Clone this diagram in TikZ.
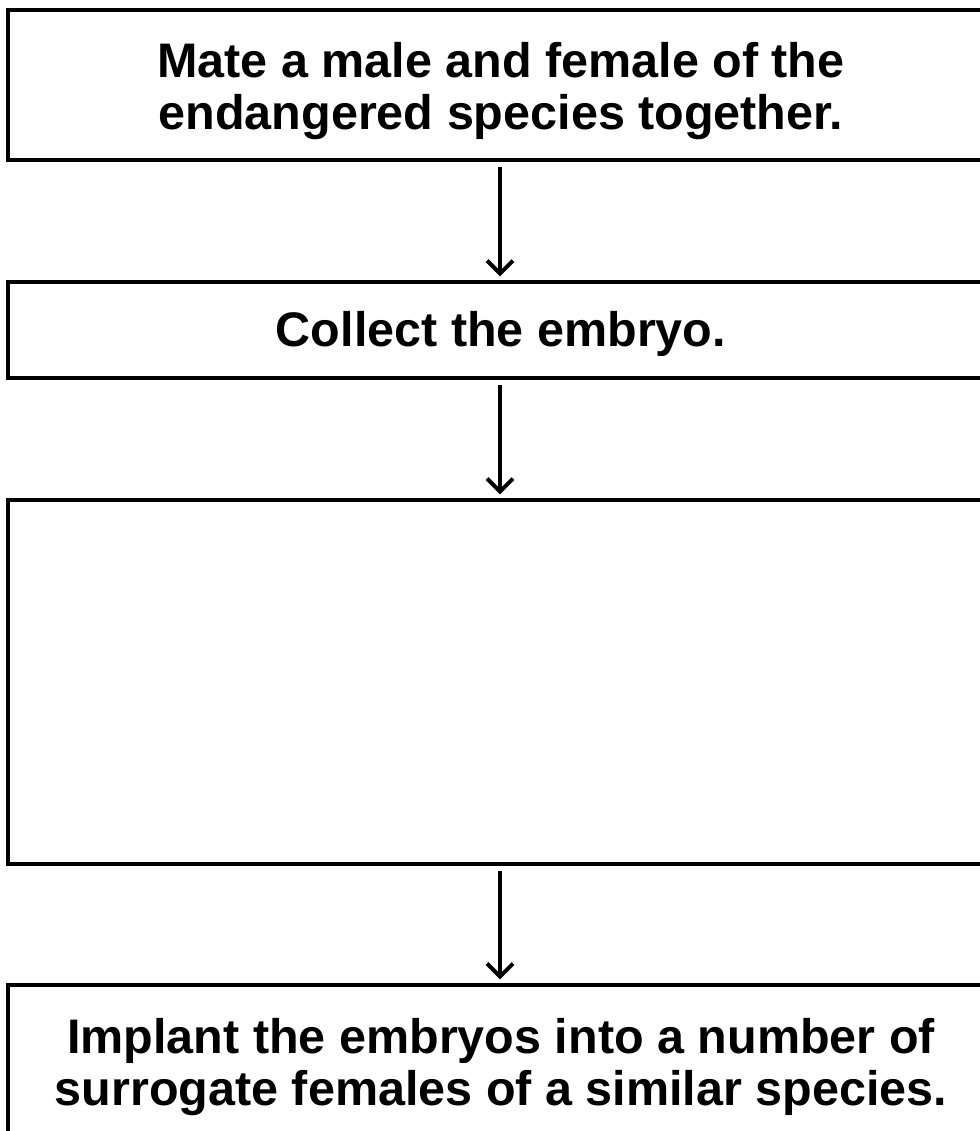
\documentclass[tikz,border=0pt]{standalone}
\usepackage{fontspec}
\setmainfont{Liberation Sans}
\usetikzlibrary{arrows.meta}
\begin{document}
\begin{tikzpicture}[x=1pt,y=-1pt,
  stepbox/.style={draw=black, line width=3.2pt, rectangle, minimum width=984pt, inner sep=0pt},
  txt/.style={align=center, inner sep=0pt, font=\fontsize{48.5}{52.5}\selectfont\bfseries},
  arr/.style={line width=4pt, -{Straight Barb[length=13pt,width=26pt,line width=4pt]}}]
\useasboundingbox (0,0) rectangle (979,1131);
\node[stepbox, minimum height=150pt] (b1) at (500,85) {};
\node[stepbox, minimum height=96pt] (b2) at (500,330) {};
\node[stepbox, minimum height=364pt] (b3) at (500,682) {};
\node[stepbox, minimum height=152pt] (b4) at (500,1061) {};
\node[txt] (t1) at (501,91) {Mate a male and female of the\\endangered species together.};
\node[txt] (t2) at (501,334) {Collect the embryo.};
\node[txt] (t4) at (501,1067) {Implant the embryos into a number of\\surrogate females of a similar species.};
\draw[arr] ([yshift=-5pt]b1.south) -- ([yshift=4pt]b2.north);
\draw[arr] ([yshift=-5pt]b2.south) -- ([yshift=4pt]b3.north);
\draw[arr] ([yshift=-5pt]b3.south) -- ([yshift=4pt]b4.north);
\end{tikzpicture}
\end{document}
